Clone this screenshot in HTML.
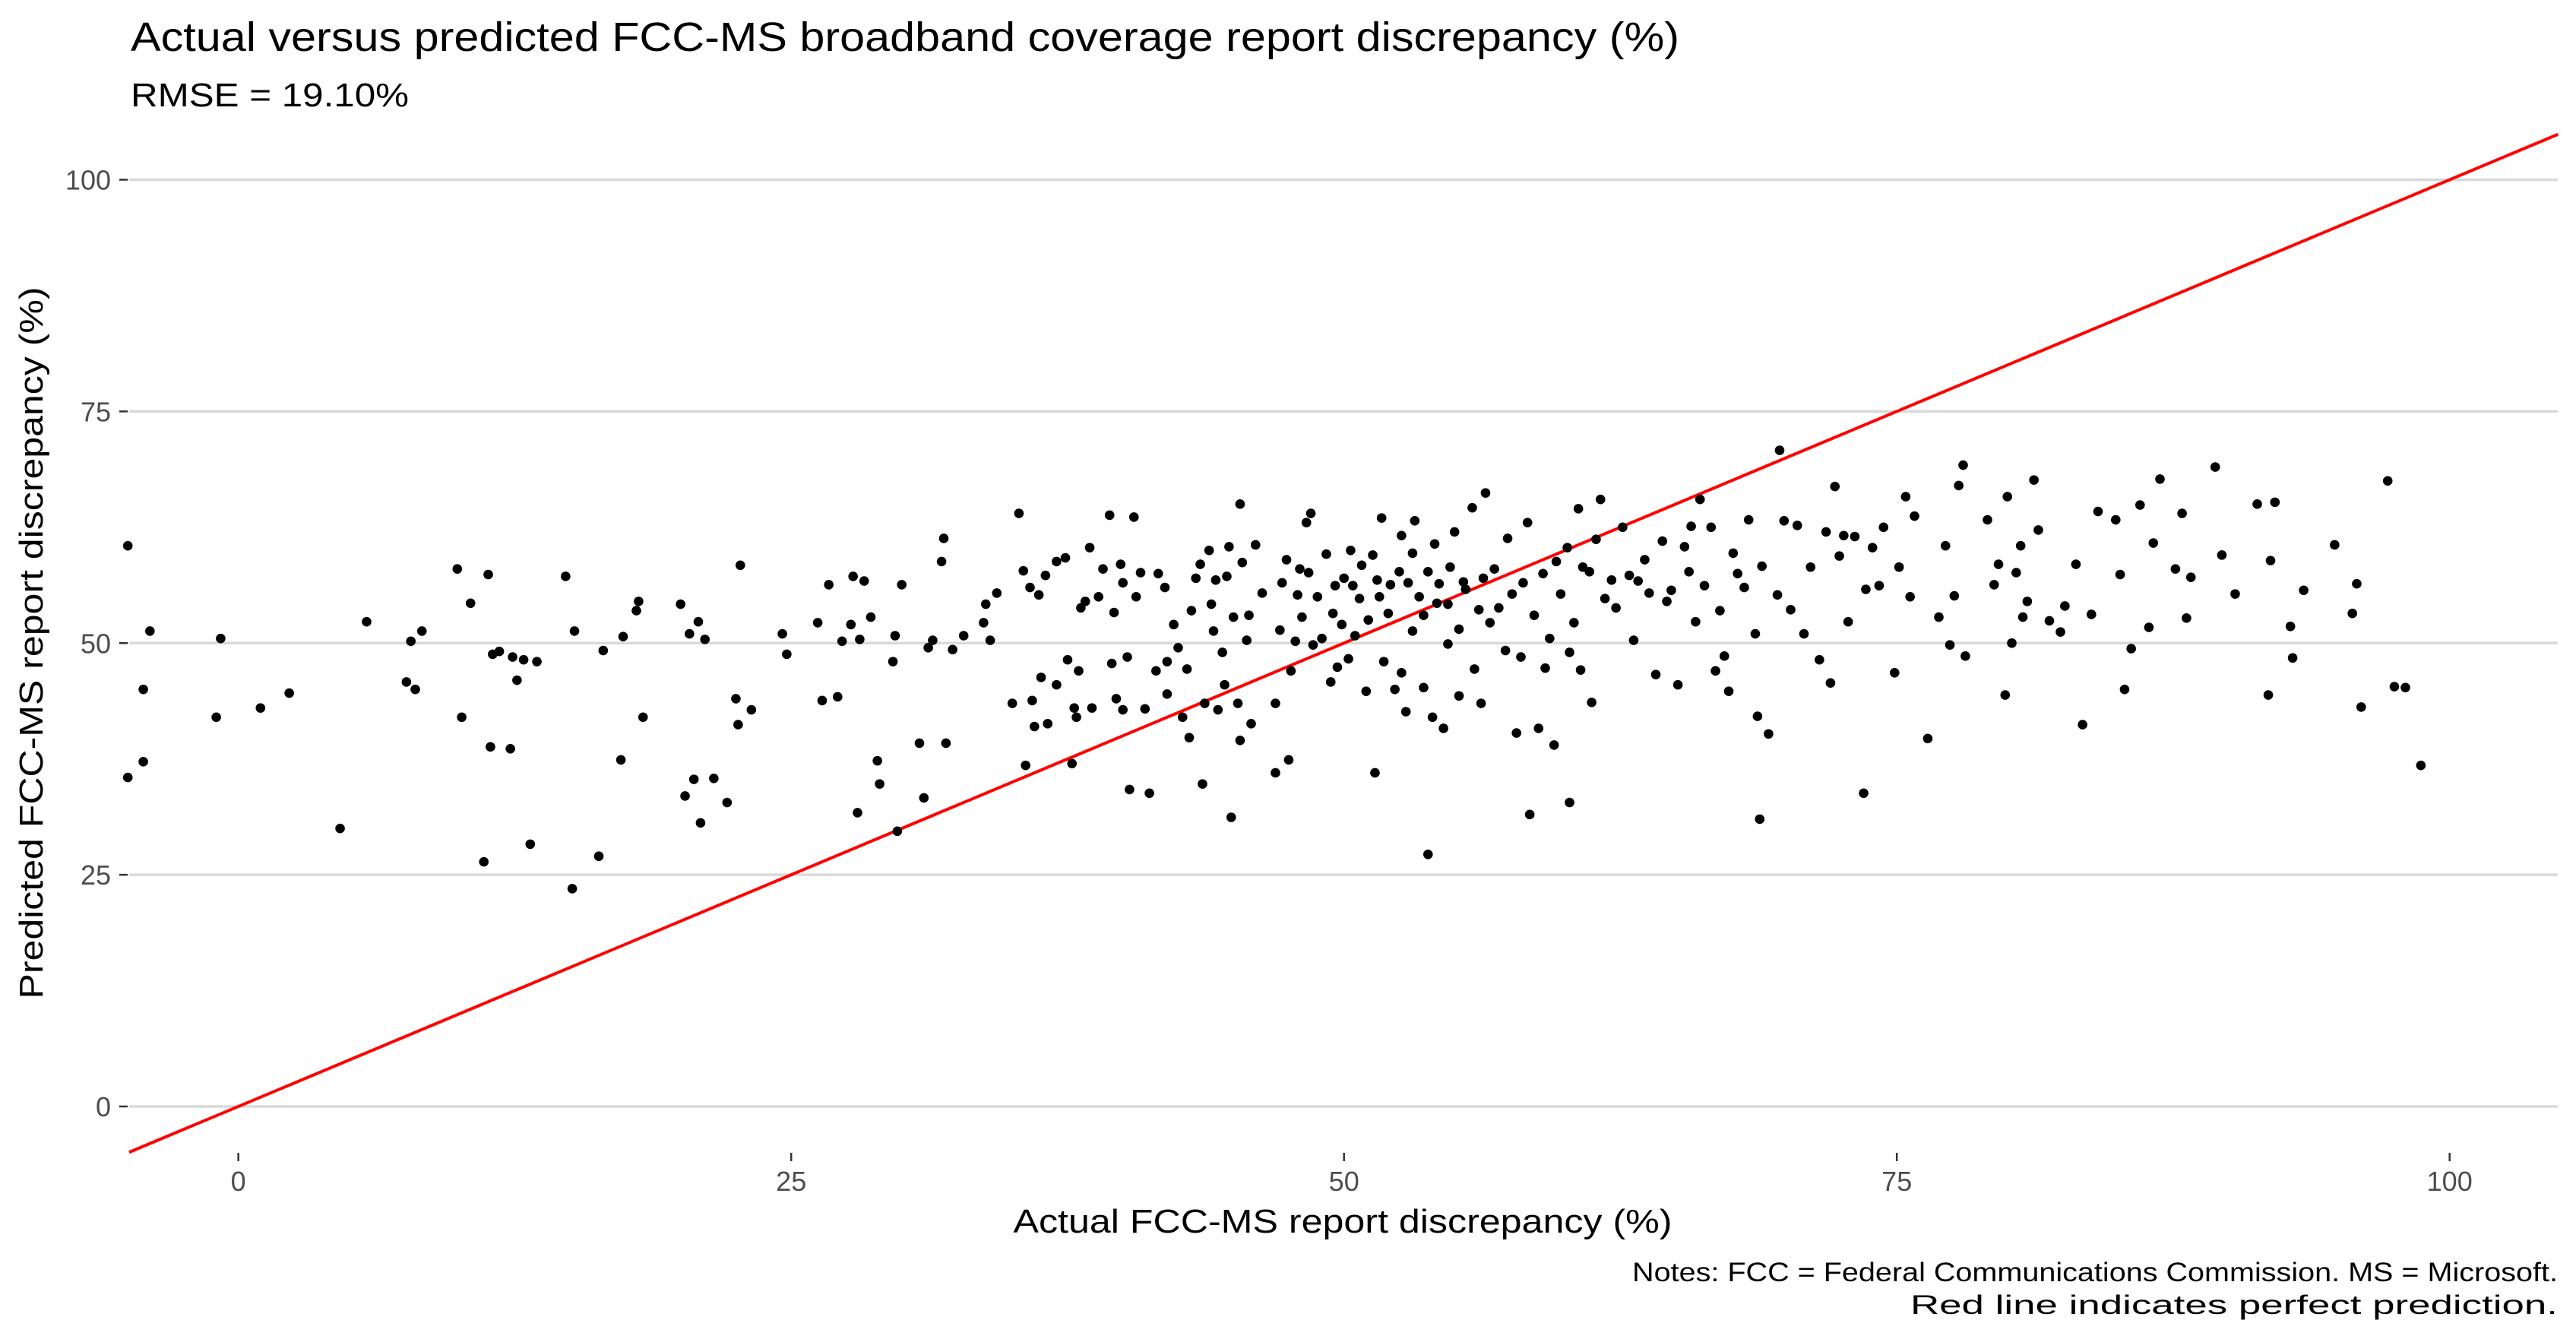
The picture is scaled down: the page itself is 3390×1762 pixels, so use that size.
<!DOCTYPE html>
<html><head><meta charset="utf-8">
<style>
html,body{margin:0;padding:0;background:#fff;}
svg{display:block;font-family:"Liberation Sans",Arial,sans-serif;}
</style></head>
<body>
<svg id="chart" width="3390" height="1762" viewBox="0 0 3390 1762" xmlns="http://www.w3.org/2000/svg">
<rect width="3390" height="1762" fill="#fff"/>
<text x="172" y="67" font-size="54" textLength="2038" lengthAdjust="spacingAndGlyphs" fill="#000">Actual versus predicted FCC-MS broadband coverage report discrepancy (%)</text>
<text x="172" y="140" font-size="44" textLength="366" lengthAdjust="spacingAndGlyphs" fill="#000">RMSE = 19.10%</text>
<g id="grid"></g>
<g id="yticks"></g>
<g id="xticks"></g>
<line id="refline" stroke="#ff0000" stroke-width="4"/>
<g id="points"></g>
<text x="1767" y="1622" font-size="44" text-anchor="middle" textLength="867" lengthAdjust="spacingAndGlyphs" fill="#000">Actual FCC-MS report discrepancy (%)</text>
<text transform="translate(56,846) rotate(-90)" font-size="44" text-anchor="middle" textLength="937" lengthAdjust="spacingAndGlyphs" fill="#000">Predicted FCC-MS report discrepancy (%)</text>
<text x="3366" y="1686" font-size="35" text-anchor="end" textLength="1218" lengthAdjust="spacingAndGlyphs" fill="#000">Notes: FCC = Federal Communications Commission. MS = Microsoft.</text>
<text x="3366" y="1729" font-size="35" text-anchor="end" textLength="852" lengthAdjust="spacingAndGlyphs" fill="#000">Red line indicates perfect prediction.</text>
</svg>
<script>
const xTicks = [0, 25, 50, 75, 100];
const yTicks = [0, 25, 50, 75, 100];
const refLine = [-4.94, 104.9];
const actual = [-5,-5,-4.3,-4.3,-4,-1,-0.8,1,2.3,4.6,5.8,7.6,7.8,8,8.3,9.9,10.1,10.5,11.1,11.3,11.4,11.5,11.8,12.3,12.4,12.6,12.9,13.2,13.5,14.8,15.1,15.2,16.3,16.5,17.3,17.4,18,18.1,18.3,20,20.2,20.4,20.6,20.8,20.9,21.1,21.5,22.1,22.5,22.6,22.7,23.2,24.6,24.8,26.2,26.4,26.7,27.1,27.3,27.7,27.8,28,28.1,28.3,28.6,28.9,29,29.6,29.7,29.8,30,30.8,31,31.2,31.4,31.8,31.9,32,32.3,32.8,33.7,33.8,34,34.3,
35,35.3,35.5,35.6,35.8,35.9,36,36.2,36.3,36.5,36.6,37,37,37.4,37.5,37.7,37.8,37.9,38,38.1,38.3,38.5,38.6,38.9,39.1,39.4,39.5,39.6,39.7,39.9,40,40,40.2,40.3,40.5,40.6,40.8,
41,41.2,41.5,41.6,41.9,42,42,42.3,42.5,42.7,42.9,43,43.1,43.3,43.5,43.6,43.7,43.9,44,44.1,44.2,44.3,44.5,44.6,44.7,44.8,44.9,45,45.2,45.3,45.3,45.4,45.6,45.7,45.8,46.0,46.3,
46.9,46.9,47.1,47.2,47.4,47.5,47.6,47.8,47.9,48.0,48.1,48.3,48.4,48.5,48.6,48.8,49.0,49.2,49.4,49.5,49.6,49.7,49.9,50.0,50.2,50.3,50.4,50.5,50.7,50.8,51.0,51.1,51.3,51.4,51.5,51.6,
51.7,51.8,52.0,52.1,52.3,52.5,52.6,52.6,52.8,52.9,53.1,53.1,53.2,53.4,53.6,53.6,53.8,54.0,54.1,54.2,54.3,54.5,54.7,54.7,54.8,55.0,55.2,55.2,55.4,55.5,53.8,55.8,55.9,56.1,56.2,56.3,56.4,56.6,
56.8,57.0,57.3,57.4,57.6,57.8,58.0,58.1,58.3,58.4,58.6,58.8,59.0,59.1,59.3,59.5,59.6,59.8,60.2,60.1,60.2,60.4,60.6,60.7,60.8,61.1,61.2,61.4,61.6,61.8,62.1,62.3,62.6,62.9,63.1,63.3,63.6,63.8,64.1,64.4,
64.6,64.8,65.1,65.4,65.6,65.7,65.9,66.1,66.3,66.6,66.8,67.0,67.2,67.4,67.6,67.8,68.8,68.1,68.3,68.6,68.7,68.9,69.7,69.2,69.6,69.9,70.2,70.5,70.8,71.1,71.5,71.8,72.0,72.2,72.4,72.6,72.8,73.1,73.5,73.6,73.9,74.2,74.4,
74.9,75.1,75.4,75.6,75.8,76.4,76.9,77.2,77.4,77.6,77.8,78.0,78.1,79.1,79.4,79.6,79.9,80.0,80.2,80.4,80.6,80.7,80.9,81.2,81.4,81.9,82.4,82.6,83.1,83.4,83.8,84.1,84.9,85.1,85.3,85.6,86.0,86.4,86.6,86.9,87.6,87.9,88.1,
88.3,89.4,89.7,90.3,91.8,91.9,91.3,92.1,92.8,92.9,93.4,94.8,95.6,95.8,96.0,97.2,97.5,98.0,98.7];
const predicted = [60.5,35.5,45,37.2,51.3,42,50.5,43,44.6,30,52.3,45.8,50.2,45,51.3,58,42,54.3,26.4,57.4,38.8,48.8,49.1,38.6,48.5,46,48.2,28.3,48,57.2,23.5,51.3,27,49.2,37.4,50.7,53.5,54.5,42,54.2,33.5,51,35.3,52.3,30.6,50.4,35.4,32.8,44,41.2,58.4,42.8,51,48.8,52.2,43.8,56.3,44.2,50.2,52,57.2,31.7,50.4,56.7,52.8,37.3,34.8,48,50.8,29.7,56.3,39.2,33.3,49.5,50.3,58.8,61.3,39.2,49.3,50.8,52.2,54.2,50.3,55.4,
43.5,64,57.8,36.8,56,43.8,41,55.2,46.3,57.3,41.3,58.8,45.5,59.2,48.2,37,43,42,47,53.8,54.5,60.3,43,55,58,63.8,47.8,53.3,44,58.5,42.8,56.5,48.5,34.2,63.6,55,57.6,
42.9,33.8,47,57.5,56,48,44.5,52,49.5,42,47.2,39.8,53.5,57,58.5,34.8,43.5,60,54.2,51.3,56.8,42.8,49,45.5,57.2,60.4,31.2,52.8,43.5,65,39.5,58.7,50.3,53,41.3,60.6,55.4,
36,43.5,51.4,56.5,59,37.4,47,50.2,55.2,58,52.8,63,57.6,64,49.8,55,50.5,59.6,45.8,53.2,56.2,47.4,52,57,48.3,60,56.2,50.8,54.8,58.4,44.8,52.5,59.5,36,56.8,55,
63.5,48,53.2,56.3,45,57.7,46.8,61.6,42.6,56.5,51.3,59.7,63.2,55,45.2,53,57.7,42,60.7,54.3,56.4,40.8,49.9,54.2,58.2,62,44.3,51.5,56.6,55.8,27.2,64.6,47.2,53.6,43.5,57,66.2,52.2,
58,53.8,49.2,61.3,55.3,40.3,48.5,56.5,63,31.5,53,40.8,57.5,47.3,50.5,39,58.8,55.3,32.8,60.3,49,52.2,64.5,47.1,58.2,57.7,43.6,61.2,65.5,54.8,56.8,53.8,62.5,57.3,50.3,56.7,59,55.4,46.6,61,
54.5,55.7,45.5,60.4,57.7,62.6,52.3,65.5,56.2,62.5,47,53.5,48.6,44.8,59.7,57.5,31,56,63.3,51,42.1,58.3,70.8,40.2,55.2,63.2,53.6,62.7,51,58.2,48.2,62,45.7,66.9,59.4,61.6,52.3,61.5,33.8,55.8,60.3,56.2,62.5,
46.8,58.2,65.8,55,63.7,39.7,52.8,60.5,49.8,55.1,67,69.2,48.6,63.3,56.3,58.5,44.4,65.8,50,57.6,60.5,52.8,54.5,67.6,62.2,52.4,51.2,54,58.5,41.2,53.1,64.2,63.3,57.4,45,49.4,64.9,51.7,60.8,67.7,58,64,52.7,
57.1,69,59.5,55.3,44.4,58.9,65,65.2,51.8,48.4,55.7,60.6,53.2,56.4,43.1,67.5,45.3,45.2,36.8];

const X0 = 313.7, XS = 29.1;
const Y0 = 1456, YS = 12.195;
const PL = 170, PR = 3366;
function sx(v){ return X0 + v*XS; }
function sy(v){ return Y0 - v*YS; }
const NS = 'http://www.w3.org/2000/svg';
function mk(tag, attrs, parent){
  const e = document.createElementNS(NS, tag);
  for (const k in attrs) e.setAttribute(k, attrs[k]);
  parent.appendChild(e);
  return e;
}
const grid = document.getElementById('grid');
const yg = document.getElementById('yticks');
const xg = document.getElementById('xticks');
yTicks.forEach(function(t){
  const gl = mk('line', {x1: PL, x2: PR, y1: sy(t), y2: sy(t), stroke: '#d9d9d9', 'stroke-width': 3.5}, grid);
  
  
  const tk = mk('line', {x1: 157, x2: 168, y1: sy(t), y2: sy(t), stroke: '#333', 'stroke-width': 2.5}, yg);
  
  
  const lb = mk('text', {x: 146, y: sy(t) + 13, 'font-size': 36, fill: '#4d4d4d', 'text-anchor': 'end'}, yg);
  
  
  lb.textContent = t;
});
xTicks.forEach(function(t){
  const tk = mk('line', {x1: sx(t), x2: sx(t), y1: 1517, y2: 1528, stroke: '#333', 'stroke-width': 2.5}, xg);
  
  
  const lb = mk('text', {x: sx(t), y: 1567, 'font-size': 36, fill: '#4d4d4d', 'text-anchor': 'middle'}, xg);
  
  
  lb.textContent = t;
});
const rl = document.getElementById('refline');
rl.setAttribute('x1', sx(refLine[0])); rl.setAttribute('y1', sy(refLine[0]));
rl.setAttribute('x2', sx(refLine[1])); rl.setAttribute('y2', sy(refLine[1]));
const pg = document.getElementById('points');
for (let i = 0; i < actual.length; i++){
  const c = mk('circle', {cx: sx(actual[i]), cy: sy(predicted[i]), r: 6.3, fill: '#000'}, pg);
  
  
}
</script>
</body></html>
